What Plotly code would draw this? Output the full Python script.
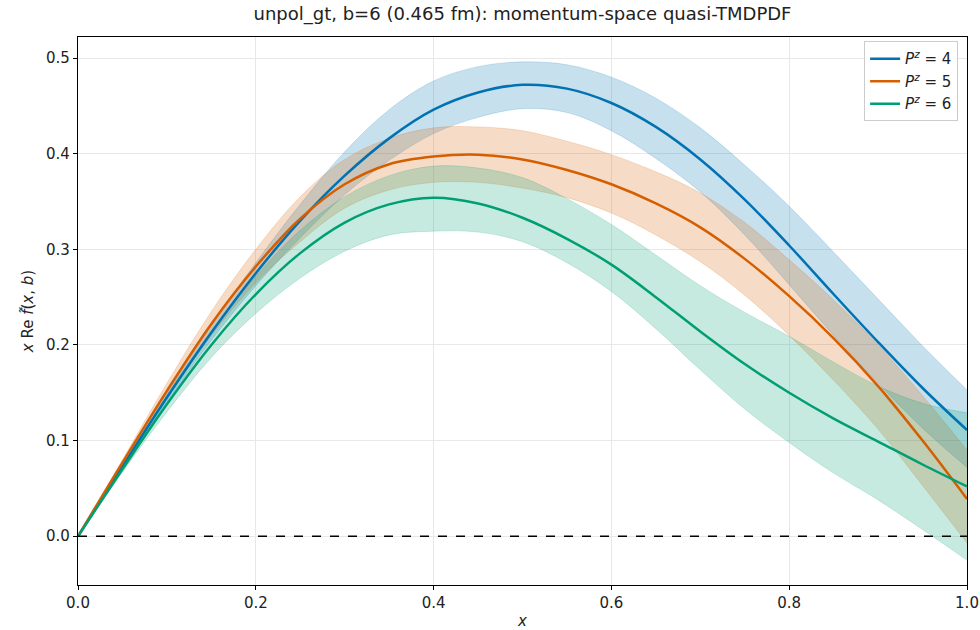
import plotly.graph_objects as go

x_vals = [0.0, 0.05, 0.1, 0.15, 0.2, 0.25, 0.3, 0.35, 0.4, 0.45, 0.5,
          0.55, 0.6, 0.65, 0.7, 0.75, 0.8, 0.85, 0.9, 0.95, 1.0]

pz4_mid = [0, 0.073, 0.145, 0.213, 0.275, 0.33, 0.377, 0.416, 0.446, 0.464, 0.472,
           0.468, 0.453, 0.428, 0.394, 0.352, 0.304, 0.253, 0.203, 0.155, 0.111]
pz4_hi = [0, 0.075, 0.15, 0.22, 0.286, 0.347, 0.402, 0.446, 0.476, 0.491, 0.496,
          0.493, 0.48, 0.458, 0.427, 0.388, 0.345, 0.297, 0.248, 0.199, 0.153]
pz4_lo = [0, 0.071, 0.14, 0.205, 0.262, 0.312, 0.357, 0.393, 0.421, 0.438, 0.447,
          0.443, 0.424, 0.395, 0.36, 0.315, 0.263, 0.21, 0.16, 0.113, 0.072]

pz5_mid = [0, 0.077, 0.152, 0.222, 0.282, 0.332, 0.368, 0.389, 0.397, 0.399, 0.394,
           0.383, 0.368, 0.348, 0.323, 0.29, 0.251, 0.207, 0.157, 0.1, 0.039]
pz5_hi = [0, 0.08, 0.16, 0.235, 0.3, 0.355, 0.394, 0.416, 0.427, 0.428, 0.424,
          0.413, 0.399, 0.381, 0.359, 0.328, 0.289, 0.247, 0.2, 0.147, 0.09]
pz5_lo = [0, 0.074, 0.144, 0.21, 0.265, 0.308, 0.343, 0.362, 0.37, 0.37, 0.364,
          0.354, 0.338, 0.315, 0.287, 0.252, 0.21, 0.163, 0.112, 0.053, -0.007]

pz6_mid = [0, 0.07, 0.138, 0.2, 0.253, 0.296, 0.328, 0.347, 0.354, 0.348, 0.333,
           0.311, 0.284, 0.25, 0.214, 0.18, 0.15, 0.123, 0.099, 0.075, 0.052]
pz6_hi = [0, 0.073, 0.148, 0.214, 0.272, 0.32, 0.355, 0.377, 0.387, 0.385, 0.375,
          0.353, 0.326, 0.294, 0.262, 0.234, 0.209, 0.182, 0.157, 0.139, 0.129]
pz6_lo = [0, 0.067, 0.13, 0.187, 0.233, 0.27, 0.298, 0.315, 0.319, 0.318, 0.308,
          0.286, 0.256, 0.217, 0.174, 0.133, 0.098, 0.066, 0.038, 0.007, -0.025]

series = [
    ("4", pz4_mid, pz4_hi, pz4_lo, "#0072B2", "rgba(0,114,178,0.22)"),
    ("5", pz5_mid, pz5_hi, pz5_lo, "#D55E00", "rgba(213,94,0,0.22)"),
    ("6", pz6_mid, pz6_hi, pz6_lo, "#009E73", "rgba(0,158,115,0.22)"),
]

fig = go.Figure()
for name, mid, hi, lo, col, fcol in series:
    fig.add_trace(go.Scatter(x=x_vals, y=hi, mode="lines",
                             line=dict(width=0.8, color=fcol, shape="spline", smoothing=1.0),
                             showlegend=False, hoverinfo="skip"))
    fig.add_trace(go.Scatter(x=x_vals, y=lo, mode="lines",
                             line=dict(width=0.8, color=fcol, shape="spline", smoothing=1.0),
                             fill="tonexty", fillcolor=fcol, showlegend=False, hoverinfo="skip"))
for name, mid, hi, lo, col, fcol in series:
    fig.add_trace(go.Scatter(x=x_vals, y=mid, mode="lines",
                             line=dict(width=2.5, color=col, shape="spline", smoothing=1.0),
                             name="<i>P</i><sup><i>z</i></sup> = " + name))

fig.add_hline(y=0, line=dict(color="black", width=1.3, dash="dash"))

fig.update_layout(
    width=980, height=630,
    paper_bgcolor="white", plot_bgcolor="white",
    margin=dict(l=78, r=13, t=37, b=45),
    font=dict(family="DejaVu Sans", size=15, color="#222"),
    title=dict(text="unpol_gt, b=6 (0.465 fm): momentum-space quasi-TMDPDF",
               xref="paper", x=0.5, xanchor="center", yref="container", y=0.978, yanchor="middle",
               font=dict(size=18, color="#222")),
    legend=dict(x=0.99, xanchor="right", y=0.992, yanchor="top", bgcolor="rgba(255,255,255,0.85)",
                bordercolor="#cccccc", borderwidth=1, font=dict(size=15), traceorder="normal"),
    xaxis=dict(range=[0, 1.0], tickvals=[0, 0.2, 0.4, 0.6, 0.8, 1.0],
               ticktext=["0.0", "0.2", "0.4", "0.6", "0.8", "1.0"],
               showgrid=True, gridcolor="#e8e8e8", zeroline=False,
               showline=True, linecolor="black", linewidth=1.2, mirror=True,
               ticks="outside", ticklen=4, tickcolor="black", automargin=False,
               title=dict(text="<i>x</i>", standoff=4, font=dict(size=15))),
    yaxis=dict(range=[-0.051, 0.522], tickvals=[0, 0.1, 0.2, 0.3, 0.4, 0.5],
               ticktext=["0.0", "0.1", "0.2", "0.3", "0.4", "0.5"],
               showgrid=True, gridcolor="#e8e8e8", zeroline=False,
               showline=True, linecolor="black", linewidth=1.2, mirror=True,
               ticks="outside", ticklen=4, tickcolor="black", automargin=False,
               title=dict(text="<i>x</i> Re <i>f\u0303</i>(<i>x</i>, <i>b</i>)", standoff=8, font=dict(size=15))),
)

fig.write_html("out.html")
